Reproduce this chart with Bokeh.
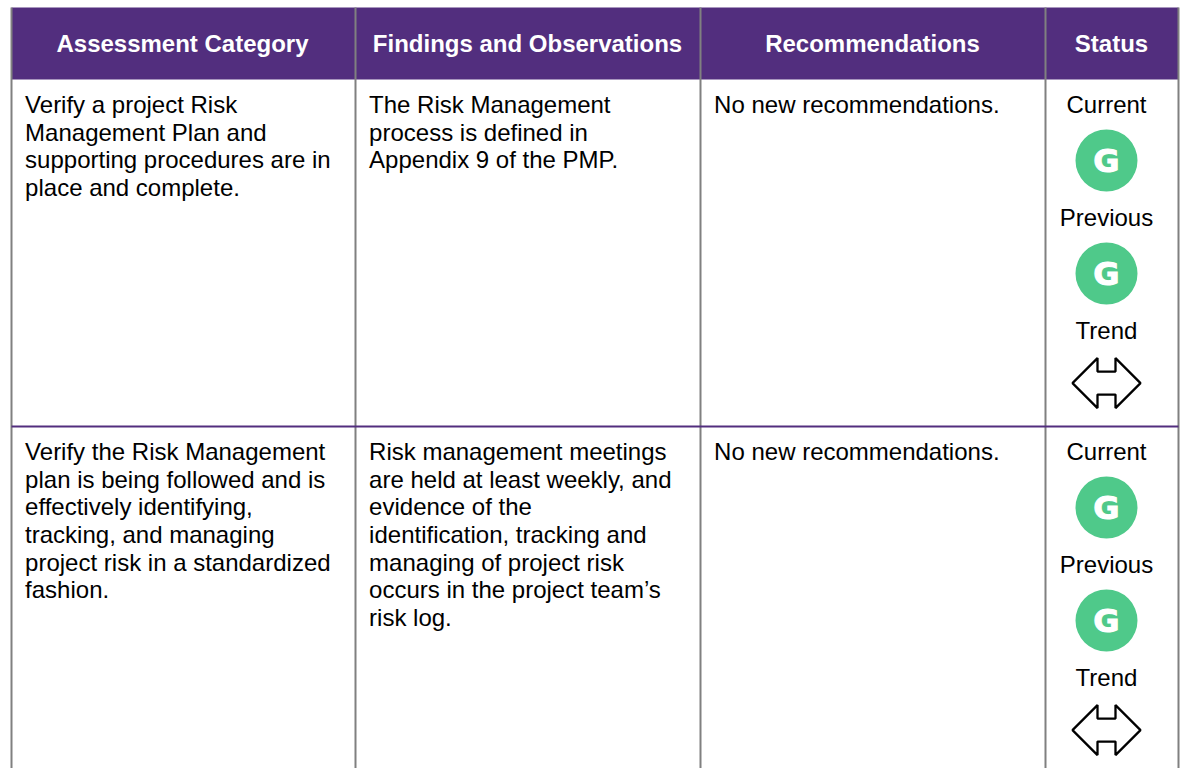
from bokeh.plotting import figure
from bokeh.models import Range1d
from bokeh.core.properties import value
from bokeh.embed import file_html
from bokeh.resources import INLINE

headers = ["Assessment Category", "Findings and Observations", "Recommendations", "Status"]
row1_category = ["Verify a project Risk", "Management Plan and", "supporting procedures are in", "place and complete."]
row1_findings = ["The Risk Management", "process is defined in", "Appendix 9 of the PMP."]
row1_recs = ["No new recommendations."]
row2_category = ["Verify the Risk Management", "plan is being followed and is", "effectively identifying,", "tracking, and managing", "project risk in a standardized", "fashion."]
row2_findings = ["Risk management meetings", "are held at least weekly, and", "evidence of the", "identification, tracking and", "managing of project risk", "occurs in the project team\u2019s", "risk log."]
row2_recs = ["No new recommendations."]
status_labels = ["Current", "Previous", "Trend"]
status_current = ["G", "G"]
status_previous = ["G", "G"]

PURPLE = "#522E7E"
GREEN = "#4FC98A"
GREY = "#808080"
FONT = "Liberation Sans"
col_edges = [11, 355, 700, 1045, 1178]
head_top, head_bot = 7, 79
row_tops = [79, 426]
pitch = 27.65
size = "24px"

p = figure(width=1182, height=768, output_backend="svg", toolbar_location=None,
           x_range=Range1d(0, 1182), y_range=Range1d(768, 0),
           min_border=0, outline_line_color=None)
p.axis.visible = False
p.grid.visible = False
p.background_fill_color = "white"
p.border_fill_color = "white"

# header band
p.quad(left=[col_edges[0]], right=[col_edges[-1]], top=[head_top], bottom=[head_bot],
       fill_color=PURPLE, line_color=None)
# column rules
p.segment(x0=col_edges, x1=col_edges, y0=[head_top] * 5, y1=[768] * 5, line_color=GREY, line_width=2)
# row rule
p.segment(x0=[col_edges[0]], x1=[col_edges[-1]], y0=[row_tops[1]], y1=[row_tops[1]],
          line_color=PURPLE, line_width=2)

# header text
centers = [(col_edges[i] + col_edges[i + 1]) / 2 - (1 if i == 0 else 0.5) for i in range(4)]
p.text(x=centers, y=[43] * 4, text=headers, text_color="white",
       text_font=value(FONT), text_font_style="bold", text_font_size=size,
       text_align="center", text_baseline="middle")

def block(lines, col, top):
    x = col_edges[col] + 13.6
    ys = [top + 25 + i * pitch for i in range(len(lines))]
    p.text(x=[x] * len(lines), y=ys, text=lines, text_color="black",
           text_font=value(FONT), text_font_size=size,
           text_align="left", text_baseline="middle")

for top, cols in zip(row_tops, [(row1_category, row1_findings, row1_recs),
                                (row2_category, row2_findings, row2_recs)]):
    for c, lines in enumerate(cols):
        block(lines, c, top)

cx = 1106
for r, top in enumerate(row_tops):
    ys = [top + 25 + k * 113 for k in range(3)]
    p.text(x=[cx] * 3, y=ys, text=status_labels, text_color="black",
           text_font=value(FONT), text_font_size=size,
           text_align="center", text_baseline="middle")
    cy = [top + 81, top + 194]
    p.scatter(x=[cx, cx], y=cy, size=62, marker="circle", fill_color=GREEN, line_color=None)
    p.text(x=[cx, cx], y=cy, text=[status_current[r], status_previous[r]],
           text_color="white", text_font=value("DejaVu Sans"), text_font_style="bold",
           text_font_size="32px", text_align="center", text_baseline="middle",
           text_outline_color="white")
    # two-way trend arrow
    ay = top + 303.6
    xs = [-34, -9, -9, 9, 9, 34, 9, 9, -9, -9]
    yo = [0, -25, -11.5, -11.5, -25, 0, 25, 11.5, 11.5, 25]
    p.patch(x=[cx + v for v in xs], y=[ay + v for v in yo],
            fill_color="white", line_color="black", line_width=2.3)

open("out.html", "w").write(file_html(p, INLINE))
